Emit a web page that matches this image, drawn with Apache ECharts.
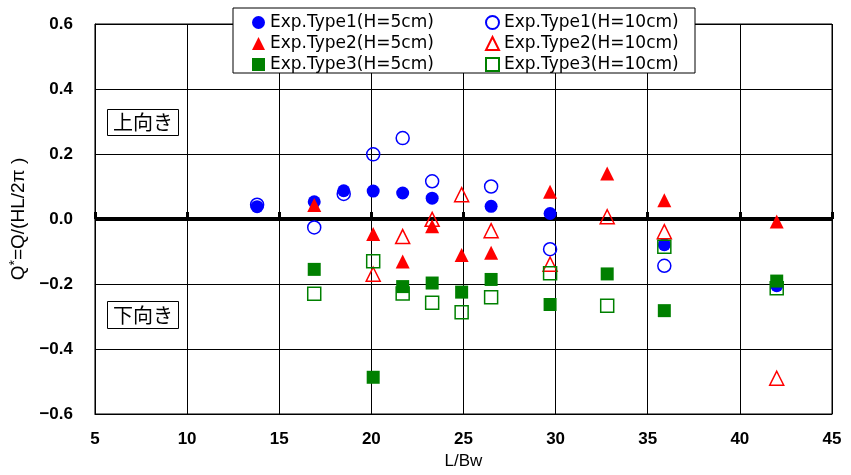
<!DOCTYPE html>
<html>
<head>
<meta charset="utf-8">
<script src="https://cdn.jsdelivr.net/npm/echarts@6/dist/echarts.min.js"></script>
<style>html,body{margin:0;padding:0;background:#fff;}#c{width:851px;height:475px;}</style>
</head>
<body>
<div id="c"></div>
<script>
// L/Bw positions shared by all series
var xs = [13.8, 16.9, 18.5, 20.1, 21.7, 23.3, 24.9, 26.5, 29.7, 32.8, 35.9, 42.0];
var t1h5  = [0.038, 0.053, 0.087, 0.086, 0.080, 0.064, null, 0.039, 0.017, null, -0.079, -0.205];
var t1h10 = [0.044, -0.026, 0.077, 0.199, 0.249, 0.116, null, 0.100, -0.093, null, -0.144, null];
var t2h5  = [null, 0.043, null, -0.046, -0.131, -0.022, -0.111, -0.104, 0.084, 0.140, 0.058, -0.008];
var t2h10 = [null, null, null, -0.170, -0.054, -0.001, 0.075, -0.036, -0.139, 0.007, -0.039, -0.490];
var t3h5  = [null, -0.155, null, -0.487, -0.208, -0.197, -0.225, -0.186, -0.263, -0.169, -0.282, -0.191];
var t3h10 = [null, -0.230, null, -0.130, -0.229, -0.258, -0.287, -0.241, -0.167, -0.267, -0.085, -0.213];
var seriesNames = ['Exp.Type1(H=5cm)', 'Exp.Type1(H=10cm)', 'Exp.Type2(H=5cm)', 'Exp.Type2(H=10cm)', 'Exp.Type3(H=5cm)', 'Exp.Type3(H=10cm)'];
var xTicks = [5, 10, 15, 20, 25, 30, 35, 40, 45];
var yTicks = [-0.6, -0.4, -0.2, 0.0, 0.2, 0.4, 0.6];

function pairs(arr) {
  var out = [];
  for (var i = 0; i < xs.length; i++) if (arr[i] !== null) out.push([xs[i], arr[i]]);
  return out;
}
var blue = '#0000ff', red = '#ff0000', green = '#008000';
function mk(name, data, symbol, color, filled) {
  return {
    type: 'scatter', name: name, data: pairs(data), symbol: symbol,
    symbolSize: symbol === 'triangle' ? 14 : 13,
    itemStyle: filled ? { color: color, borderColor: color, borderWidth: 0, opacity: 1 } :
                        { color: 'rgba(0,0,0,0)', borderColor: color, borderWidth: 1.5, opacity: 1 },
    xAxisIndex: 0, yAxisIndex: 0, z: 3
  };
}
var chart = echarts.init(document.getElementById('c'), null, { renderer: 'canvas' });
var series = [
  mk(seriesNames[0], t1h5, 'circle', blue, true),
  mk(seriesNames[1], t1h10, 'circle', blue, false),
  mk(seriesNames[2], t2h5, 'triangle', red, true),
  mk(seriesNames[3], t2h10, 'triangle', red, false),
  mk(seriesNames[4], t3h5, 'rect', green, true),
  mk(seriesNames[5], t3h10, 'rect', green, false)
];
series[0].markLine = {
  silent: true, symbol: ['none', 'none'], label: { show: false },
  lineStyle: { color: '#000', width: 4, type: 'solid' },
  data: [{ yAxis: 0 }], z: 1
};
var legendText = { fontFamily: 'DejaVu Sans', fontSize: 17, color: '#000', lineHeight: 17 };
var option = {
  animation: false,
  backgroundColor: '#fff',
  grid: { left: 94, top: 24, right: 19, bottom: 61, show: true, borderColor: '#000', borderWidth: 1 },
  xAxis: [{
    type: 'value', min: 5, max: 45, interval: 5,
    name: 'L/Bw', nameLocation: 'middle', nameGap: 38,
    nameTextStyle: { fontFamily: 'Liberation Sans', fontSize: 17, color: '#000' },
    axisLine: { show: true, onZero: false, lineStyle: { color: '#000', width: 1 } },
    axisTick: { show: false },
    axisLabel: { fontFamily: 'Liberation Sans', fontWeight: 'bold', fontSize: 17, color: '#000', margin: 17,
      formatter: function (v) { return xTicks.indexOf(v) >= 0 ? String(v) : ''; } },
    splitLine: { show: true, lineStyle: { color: '#000', width: 1 } }
  }, {
    type: 'value', min: 5, max: 45, interval: 5, position: 'bottom',
    axisLine: { show: false, onZero: true },
    axisTick: { show: true, inside: true, length: 7, lineStyle: { color: '#000', width: 3 } },
    axisLabel: { show: false }, splitLine: { show: false }
  }],
  yAxis: {
    type: 'value', min: -0.6, max: 0.6, interval: 0.2,
    name: '{a|Q}{s|*}{a|=Q/(HL/2π )}', nameLocation: 'middle', nameGap: 62, nameRotate: 90,
    nameTextStyle: { rich: {
      a: { fontFamily: 'Liberation Sans', fontSize: 19, color: '#000' },
      s: { fontFamily: 'Liberation Sans', fontSize: 14, color: '#000', verticalAlign: 'top', padding: [0, 0, 8, 0] }
    } },
    axisLine: { show: true, lineStyle: { color: '#000', width: 1 } },
    axisTick: { show: false },
    axisLabel: { fontFamily: 'Liberation Sans', fontWeight: 'bold', fontSize: 17, color: '#000', margin: 22,
      formatter: function (v) { var s = Math.abs(v).toFixed(1); return v < -1e-9 ? '\u2212' + s : s; } },
    splitLine: { show: true, lineStyle: { color: '#000', width: 1 } }
  },
  legend: [{
    orient: 'vertical', left: 252, top: 14, padding: 0, itemGap: 4, itemWidth: 13, itemHeight: 13, z: 20,
    data: [seriesNames[0], seriesNames[2], seriesNames[4]], textStyle: legendText, selectedMode: false
  }, {
    orient: 'vertical', left: 485, top: 14, padding: 0, itemGap: 4, itemWidth: 13, itemHeight: 13, z: 20,
    data: [seriesNames[1], seriesNames[3], seriesNames[5]], textStyle: legendText, selectedMode: false
  }],
  graphic: [
    { type: 'rect', shape: { x: 233, y: 8, width: 462, height: 65 }, style: { fill: '#fff', stroke: '#000', lineWidth: 1 }, z: 10 },
    { type: 'group', left: 107, top: 109, z: 10, children: [
      { type: 'rect', shape: { x: 0, y: 0, width: 71, height: 26 }, style: { fill: '#fff', stroke: '#000', lineWidth: 1 } },
      { type: 'text', x: 35.5, y: 13, style: { text: '上向き', font: '20px "Noto Sans CJK JP"', fill: '#000', textAlign: 'center', textVerticalAlign: 'middle' } }
    ] },
    { type: 'group', left: 107, top: 301, z: 10, children: [
      { type: 'rect', shape: { x: 0, y: 0, width: 71, height: 27 }, style: { fill: '#fff', stroke: '#000', lineWidth: 1 } },
      { type: 'text', x: 35.5, y: 13.5, style: { text: '下向き', font: '20px "Noto Sans CJK JP"', fill: '#000', textAlign: 'center', textVerticalAlign: 'middle' } }
    ] }
  ],
  series: series
};
chart.setOption(option);
</script>
</body>
</html>
